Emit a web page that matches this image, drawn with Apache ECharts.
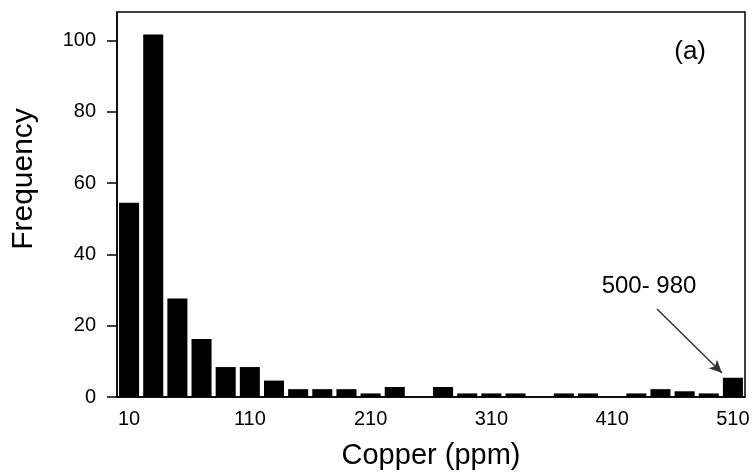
<!DOCTYPE html>
<html>
<head>
<meta charset="utf-8">
<script src="https://cdn.jsdelivr.net/npm/echarts@6/dist/echarts.min.js"></script>
<style>
html, body { margin: 0; padding: 0; background: #fff; }
#main { width: 753px; height: 476px; }
</style>
</head>
<body>
<div id="main"></div>
<script>
// bin centres (ppm), 20 ppm wide; last bin holds 500-980
var binCentres = ['10', '30', '50', '70', '90', '110', '130', '150', '170', '190',
	'210', '230', '250', '270', '290', '310', '330', '350', '370', '390',
	'410', '430', '450', '470', '490', '510'];
var frequency = [54.5, 101.7, 27.6, 16.3, 8.4, 8.4, 4.6, 2.2, 2.2, 2.2,
	1.0, 2.8, 0, 2.8, 1.0, 1.0, 1.0, 0, 1.0, 1.0,
	0, 1.0, 2.2, 1.6, 1.0, 5.4];
var yTicks = [0, 20, 40, 60, 80, 100];

var font = "'Liberation Sans', Arial, sans-serif";
var myChart = echarts.init(document.getElementById('main'));
var option = {
	animation : false,
	grid : {
		left : 117,
		right : 8,
		top : 12,
		bottom : 79,
		show : true,
		borderColor : '#000',
		borderWidth : 1.5
	},
	xAxis : {
		type : 'category',
		data : binCentres,
		name : 'Copper (ppm)',
		nameLocation : 'middle',
		nameGap : 44,
		nameTextStyle : { fontFamily : font, fontSize : 29, color : '#000' },
		axisLine : { lineStyle : { color : '#000', width : 1.5 } },
		axisTick : { interval : 4, alignWithLabel : true, length : 8, lineStyle : { color : '#000', width : 1.5 } },
		axisLabel : { interval : 4, margin : 12, fontFamily : font, fontSize : 20, color : '#000' },
		splitLine : { show : false }
	},
	yAxis : {
		type : 'value',
		min : 0,
		max : 108,
		axisLine : { show : true, lineStyle : { color : '#000', width : 1.5 } },
		axisTick : { show : true, customValues : yTicks, length : 10, lineStyle : { color : '#000', width : 1.5 } },
		axisLabel : { customValues : yTicks, margin : 21, fontFamily : font, fontSize : 20, color : '#000' },
		splitLine : { show : false }
	},
	graphic : [ {
		type : 'text',
		x : 24,
		y : 179,
		rotation : Math.PI / 2,
		style : { text : 'Frequency', fontFamily : font, fontSize : 30, fill : '#000', align : 'center', verticalAlign : 'middle' }
	}, {
		type : 'text',
		x : 706,
		y : 52,
		style : { text : '(a)', fontFamily : font, fontSize : 26, fill : '#000', align : 'right', verticalAlign : 'middle' }
	}, {
		type : 'text',
		x : 649,
		y : 286,
		style : { text : '500- 980', fontFamily : font, fontSize : 24, fill : '#000', align : 'center', verticalAlign : 'middle' }
	} ],
	series : [ {
		type : 'bar',
		data : frequency,
		barCategoryGap : '17%',
		itemStyle : { color : '#000' },
		markLine : {
			silent : true,
			symbol : [ 'none', 'arrow' ],
			symbolSize : [ 9, 13 ],
			label : { show : false },
			lineStyle : { color : '#333', width : 1.5, type : 'solid' },
			data : [ [ { x : 657, y : 309 }, { x : 722, y : 373 } ] ]
		}
	} ]
};
myChart.setOption(option);
</script>
</body>
</html>
